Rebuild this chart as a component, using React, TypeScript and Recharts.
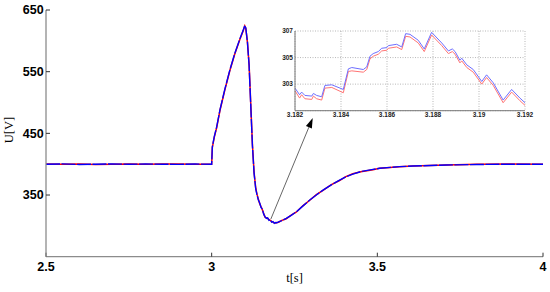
import React from 'react';
import { LineChart, Line, XAxis, YAxis, CartesianGrid, ReferenceLine } from 'recharts';

const mainT = [2.5, 2.55, 2.6, 2.65, 2.7, 2.75, 2.8, 2.85, 2.9, 2.95, 3.0, 3.002, 3.008, 3.015, 3.025, 3.04, 3.055, 3.07, 3.085, 3.095, 3.1, 3.103, 3.108, 3.113, 3.118, 3.123, 3.128, 3.133, 3.137, 3.141, 3.145, 3.149, 3.153, 3.157, 3.161, 3.165, 3.169, 3.173, 3.177, 3.181, 3.185, 3.189, 3.193, 3.197, 3.202, 3.21, 3.225, 3.24, 3.256, 3.275, 3.296, 3.316, 3.336, 3.36, 3.386, 3.405, 3.426, 3.45, 3.487, 3.507, 3.567, 3.607, 3.708, 3.8, 3.9, 4.0];
const mainBlue = [400, 400.5, 399.5, 400, 400.5, 399.8, 400.3, 400, 399.7, 400.2, 400, 428, 445, 460, 488, 522, 553, 580, 603, 617, 625, 621, 598, 560, 495, 430, 385, 360, 350, 342, 337, 330, 327, 319, 315, 312, 313, 309, 310, 306, 307, 304, 305.5, 305, 306.5, 308, 312, 317, 323, 332, 342, 350, 358, 366, 374, 379.5, 384, 388, 391.5, 393.3, 396, 397, 398.7, 399.5, 400, 400];
const mainRed = [400.3, 399.8, 400.2, 399.6, 400, 400.4, 399.7, 400.2, 400.3, 399.8, 400, 427, 444, 459, 487, 521, 552, 579, 602, 616, 624, 620, 597, 561, 497, 432, 387, 361, 351, 343, 336, 331, 326, 320, 314, 313, 312, 310, 309, 307, 306, 305, 304.8, 305.5, 306, 308.5, 311.5, 317.5, 322.5, 332.5, 341.5, 350.5, 357.5, 366.5, 373.5, 379.8, 384.5, 387.6, 391, 393.5, 395.7, 397.2, 398.5, 399.7, 400.2, 400];
const mainXTicks = [2.5, 3, 3.5, 4];
const mainYTicks = [350, 450, 550, 650];

const insetT = [3.182, 3.1822, 3.18229, 3.18243, 3.18273, 3.1828, 3.18294, 3.18316, 3.1833, 3.1836, 3.1841, 3.18432, 3.18447, 3.18497, 3.18512, 3.18526, 3.1854, 3.18562, 3.18577, 3.18599, 3.18606, 3.18642, 3.18664, 3.18681, 3.187, 3.18736, 3.18762, 3.18794, 3.18838, 3.18867, 3.18884, 3.18896, 3.18917, 3.18925, 3.18947, 3.18975, 3.19012, 3.19033, 3.19062, 3.19105, 3.19142, 3.19178, 3.192];
const insetBlue = [302.7, 302.2, 302.4, 302.15, 302.1, 302.3, 302.15, 302.05, 302.9, 302.95, 302.6, 304.15, 304.25, 304.1, 304.3, 305.1, 305.3, 305.45, 305.7, 305.75, 305.9, 306.0, 305.8, 306.8, 306.75, 306.3, 305.65, 306.9, 306.1, 305.5, 305.65, 305.45, 304.8, 304.95, 304.45, 304.1, 303.2, 303.7, 303.1, 301.8, 302.6, 301.95, 301.6];
const insetRed = [302.5, 301.95, 302.2, 301.9, 301.85, 302.1, 301.9, 301.8, 302.7, 302.75, 302.35, 303.95, 304.0, 303.9, 304.1, 304.9, 305.1, 305.25, 305.5, 305.55, 305.7, 305.8, 305.6, 306.6, 306.55, 306.1, 305.45, 306.7, 305.9, 305.3, 305.45, 305.25, 304.6, 304.75, 304.25, 303.9, 303.0, 303.5, 302.9, 301.6, 302.4, 301.75, 301.4];
const insetXTicks = [3.182, 3.184, 3.186, 3.188, 3.19, 3.192];
const insetYTicks = [303, 305, 307];

const arrowFrom = { t: 3.1786, u: 311 };
const arrowTo = { t: 3.305, u: 475 };

const mainRows = mainT.map((t, i) => ({ t, blue: mainBlue[i], red: mainRed[i] }));
const insetRows = insetT.map((t, i) => ({ t, blue: insetBlue[i], red: insetRed[i] }));

const tickFont = { fontFamily: '"Liberation Sans", Arial, sans-serif', fontSize: 12.5, fontWeight: 700, fill: '#000' };
const insetFont = { fontFamily: '"Liberation Sans", Arial, sans-serif', fontSize: 6.5, fontWeight: 700, fill: '#222' };
const frame = { stroke: '#8c8c8c', strokeWidth: 1.3 };

const ArrowShape = (props: any) => {
  const { x1, y1, x2, y2 } = props;
  if (x1 == null) return null;
  const dx = x2 - x1, dy = y2 - y1;
  const len = Math.hypot(dx, dy) || 1;
  const ux = dx / len, uy = dy / len;
  const L = 10, W = 3.2;
  const bx = x2 - ux * L, by = y2 - uy * L;
  const px = -uy, py = ux;
  return (
    <g>
      <line x1={x1} y1={y1} x2={bx} y2={by} stroke="#555" strokeWidth={0.9} />
      <polygon points={`${x2},${y2} ${bx + px * W},${by + py * W} ${bx - px * W},${by - py * W}`} fill="#000" />
    </g>
  );
};

export default function App() {
  return (
    <div style={{ position: 'absolute', left: 0, top: 0, width: 550, height: 292, background: '#fff' }}>
      <div style={{ position: 'absolute', left: 0, top: 0 }}>
        <LineChart width={550} height={292} data={mainRows} margin={{ top: 10, right: 7, bottom: 0, left: 6 }}>
          <XAxis
            dataKey="t" type="number" domain={[2.5, 4]} ticks={mainXTicks} allowDataOverflow
            height={35.3} tickSize={-4} tickMargin={9} axisLine={frame}
            tickLine={{ stroke: '#333' }} tick={tickFont} interval={0}
            label={{
              content: (p: any) => {
                const vb = p.viewBox || { x: 46, y: 256.7, width: 497, height: 35.3 };
                return (
                  <text x={vb.x + vb.width / 2} y={281.5} textAnchor="middle"
                    style={{ fontFamily: '"Liberation Serif", "Times New Roman", serif', fontSize: 12.5, fill: '#000' }}>t[s]</text>
                );
              },
            }}
          />
          <XAxis
            xAxisId="top" orientation="top" type="number" domain={[2.5, 4]} ticks={mainXTicks} allowDataOverflow
            height={0} tickSize={-4} axisLine={frame} tickLine={{ stroke: '#333' }} tick={false} interval={0}
          />
          <YAxis
            type="number" domain={[250, 650]} ticks={mainYTicks} allowDataOverflow width={40}
            tickSize={-4} tickMargin={6.4} axisLine={frame} tickLine={{ stroke: '#333' }} tick={tickFont} interval={0}
            label={{
              content: (p: any) => {
                const cx = 9, cy = 130;
                return (
                  <text x={cx} y={cy} textAnchor="middle" dominantBaseline="central" transform={`rotate(-90 ${cx} ${cy})`}
                    style={{ fontFamily: '"Liberation Serif", "Times New Roman", serif', fontSize: 12.5, fill: '#000' }}>U[V]</text>
                );
              },
            }}
          />
          <YAxis
            yAxisId="right" orientation="right" type="number" domain={[250, 650]} ticks={mainYTicks} allowDataOverflow
            width={0} tickSize={-4} axisLine={frame} tickLine={{ stroke: '#333' }} tick={false} interval={0}
          />
          <Line dataKey="red" stroke="#ff0000" strokeWidth={1.5} dot={false} isAnimationActive={false} />
          <Line dataKey="blue" stroke="#0000ff" strokeWidth={1.4} strokeDasharray="14 1.5" dot={false} isAnimationActive={false} />
          <ReferenceLine
            segment={[{ x: arrowFrom.t, y: arrowFrom.u }, { x: arrowTo.t, y: arrowTo.u }]}
            shape={ArrowShape}
          />
        </LineChart>
      </div>
      <div style={{ position: 'absolute', left: 270, top: 20 }}>
        <LineChart width={265} height={105} data={insetRows} margin={{ top: 11, right: 10, bottom: 2.3, left: 0 }}>
          <CartesianGrid stroke="#999" strokeDasharray="1 1.5" strokeWidth={0.7} />
          <XAxis
            dataKey="t" type="number" domain={[3.182, 3.192]} ticks={insetXTicks} allowDataOverflow
            height={12} tickSize={0} tickMargin={1.5} axisLine={{ stroke: '#777', strokeWidth: 1 }} tickLine={false}
            tick={insetFont} interval={0}
          />
          <XAxis
            xAxisId="top" orientation="top" type="number" domain={[3.182, 3.192]} ticks={insetXTicks} allowDataOverflow
            height={0} axisLine={{ stroke: '#777', strokeWidth: 1 }} tickLine={false} tick={false}
          />
          <YAxis
            type="number" domain={[301, 307]} ticks={insetYTicks} allowDataOverflow width={25}
            tickSize={0} tickMargin={2} axisLine={{ stroke: '#777', strokeWidth: 1 }} tickLine={false}
            tick={insetFont} interval={0}
          />
          <YAxis
            yAxisId="right" orientation="right" type="number" domain={[301, 307]} ticks={insetYTicks} allowDataOverflow
            width={0} axisLine={{ stroke: '#777', strokeWidth: 1 }} tickLine={false} tick={false}
          />
          <Line dataKey="red" stroke="#ff7474" strokeWidth={1} dot={false} isAnimationActive={false} />
          <Line dataKey="blue" stroke="#6e6eff" strokeWidth={1} dot={false} isAnimationActive={false} />
        </LineChart>
      </div>
    </div>
  );
}
